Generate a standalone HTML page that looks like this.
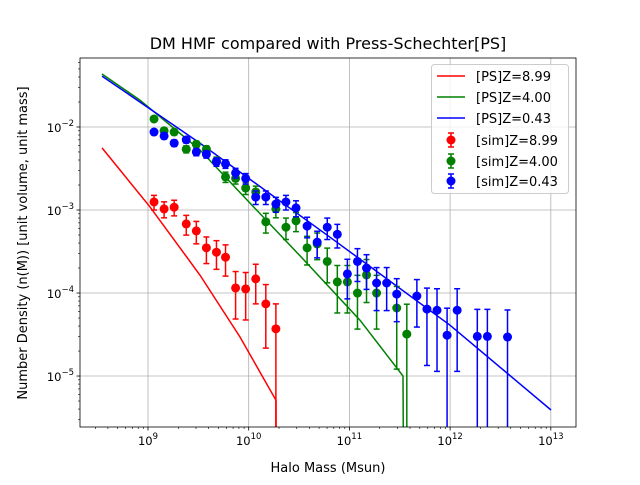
<!DOCTYPE html>
<html><head><meta charset="utf-8"><style>
body{margin:0;background:#fff;}
svg{font-family:"DejaVu Sans","Liberation Sans",sans-serif;}
</style></head><body>
<svg id="chart" width="640" height="480" viewBox="0 0 640 480"></svg>
<script>
// ---- data ----
const simLogM = [9.06,9.16,9.26,9.38,9.48,9.58,9.68,9.77,9.87,9.97,10.07,10.17,10.27,10.37,10.47,10.58,10.68,10.78,10.88,10.98,11.08,11.17,11.27,11.37,11.47,11.67,11.77,11.87,11.97,12.07,12.27,12.37,12.57];
const redSimVal = [1.25e-3,1.03e-3,1.08e-3,6.8e-4,5.6e-4,3.5e-4,3.1e-4,2.7e-4,1.15e-4,1.12e-4,1.48e-4,7.4e-5,3.7e-5];
const redSimN = [25,21,22,14,11,8,7,6,3,3,4,2,1];
const greenSimVal = [1.25e-2,9.0e-3,8.7e-3,5.4e-3,6.2e-3,5.4e-3,3.9e-3,2.5e-3,2.4e-3,1.84e-3,1.65e-3,7.2e-4,1.03e-3,6.2e-4,7.4e-4,3.5e-4,3.9e-4,2.4e-4,1.36e-4,1.36e-4,1.0e-4,1.65e-4,1.0e-4,null,6.6e-5,3.2e-5];
const greenSimLogM = [9.06,9.16,9.26,9.38,9.48,9.58,9.68,9.77,9.87,9.97,10.07,10.17,10.27,10.37,10.47,10.58,10.68,10.78,10.88,10.98,11.08,11.17,11.27,11.37,11.47,11.57];
const greenSimN = [250,180,174,108,124,108,78,50,48,37,33,14,21,12,15,7,8,5,3,3,2.5,3.5,2.5,1,1.5,0.6];
const blueSimVal = [8.7e-3,7.8e-3,6.4e-3,7.0e-3,5.0e-3,4.7e-3,3.8e-3,3.6e-3,2.8e-3,2.4e-3,1.43e-3,1.43e-3,1.18e-3,1.25e-3,1.06e-3,6.4e-4,4.1e-4,6.2e-4,5.1e-4,1.7e-4,2.4e-4,2.0e-4,1.32e-4,1.32e-4,9.7e-5,9.2e-5,6.4e-5,6.2e-5,3.1e-5,6.2e-5,3.0e-5,3.0e-5,2.95e-5];
const blueSimN = [174,156,128,140,100,94,76,72,56,48,29,29,24,25,21,13,8,12,10,4,5.5,5,3.5,3.5,3.5,3,1.6,1.5,0.8,1.5,0.8,0.8,0.8];
const redPSLogM = [8.543,9.02,9.516,9.914,10.271,10.272];
const redPSVal = [5.6e-3,1.09e-3,1.65e-4,2.95e-5,5.1e-6,0];
const greenPSLogM = [8.543,8.92,9.516,10.013,10.51,11.105,11.532,11.535];
const greenPSVal = [4.35e-2,2.11e-2,5.3e-3,1.21e-3,2.8e-4,4.7e-5,1.0e-5,0];
const bluePSLogM = [8.543,9.516,10.807,11.999,13.002];
const bluePSVal = [4.1e-2,6.4e-3,4.7e-4,4.1e-5,3.9e-6];
const xTickExp = [9,10,11,12,13];
const yTickExp = [-5,-4,-3,-2];

// ---- axes ----
const L=80,R=576,T=58,B=427;
const xMin=8.325,xMax=13.25,yMin=-5.614,yMax=-1.169;
const sx=v=>L+(v-xMin)/(xMax-xMin)*(R-L);
const sy=v=>{ if(!(v>0)) return B+5; return B-(Math.log10(v)-yMin)/(yMax-yMin)*(B-T); };
const syl=l=>B-(l-yMin)/(yMax-yMin)*(B-T);
const NS="http://www.w3.org/2000/svg";
const svg=document.getElementById('chart');
function mk(tag,attrs,parent){const e=document.createElementNS(NS,tag);for(const k in attrs)e.setAttribute(k,attrs[k]);(parent||svg).appendChild(e);return e;}

const defs=mk('defs',{});
const cp=mk('clipPath',{id:'plotclip'},defs);
mk('rect',{x:L,y:T,width:R-L,height:B-T},cp);

const grid=mk('g',{});


const axes=mk('g',{});


xTickExp.forEach(e=>{
  const x=sx(e);
  mk('line',{x1:x,x2:x,y1:T,y2:B,stroke:'#b0b0b0','stroke-width':0.8},grid);
  mk('line',{x1:x,x2:x,y1:B,y2:B+3.5,stroke:'#000','stroke-width':0.8},axes);
  const t=mk('text',{x:x,y:B+18,'text-anchor':'middle','font-size':11.5},axes);
  
  
  t.innerHTML='10<tspan dy="-6" font-size="8.5">'+e+'</tspan>';
});
for(let d=8;d<=13;d++)for(let m=2;m<=9;m++){const l=d+Math.log10(m);if(l<xMin||l>xMax)continue;const x=sx(l);mk('line',{x1:x,x2:x,y1:B,y2:B+2,stroke:'#000','stroke-width':0.6},axes);}
yTickExp.forEach(e=>{
  const y=syl(e);
  mk('line',{x1:L,x2:R,y1:y,y2:y,stroke:'#b0b0b0','stroke-width':0.8},grid);
  mk('line',{x1:L-3.5,x2:L,y1:y,y2:y,stroke:'#000','stroke-width':0.8},axes);
  const t=mk('text',{x:L-6,y:y+5,'text-anchor':'end','font-size':11.5},axes);
  
  
  t.innerHTML='10<tspan dy="-6" font-size="8.5">\u2212'+(-e)+'</tspan>';
});
for(let d=-6;d<=-1;d++)for(let m=2;m<=9;m++){const l=d+Math.log10(m);if(l<yMin||l>yMax)continue;const y=syl(l);mk('line',{x1:L-2,x2:L,y1:y,y2:y,stroke:'#000','stroke-width':0.6},axes);}

const plot=mk('g',{'clip-path':'url(#plotclip)'});
function psLine(lm,vals,color,name){
  let d='';lm.forEach((l,i)=>{d+=(i?'L':'M')+sx(l).toFixed(1)+','+sy(vals[i]).toFixed(1);});
  const p=mk('path',{d:d,fill:'none',stroke:color,'stroke-width':1.5},plot);
  
  
}
function sim(lm,vals,ns,color,name){
  const g=mk('g',{},plot);
  
  
  vals.forEach((v,i)=>{
    if(v==null)return;
    const x=sx(lm[i]);const err=v/Math.sqrt(ns[i]);
    const yt=sy(v+err),yb=sy(v-err);
    mk('line',{x1:x,x2:x,y1:yt,y2:yb,stroke:color,'stroke-width':1.5},g);
    mk('line',{x1:x-3,x2:x+3,y1:yt,y2:yt,stroke:color,'stroke-width':1.5},g);
    if(v-err>0)mk('line',{x1:x-3,x2:x+3,y1:yb,y2:yb,stroke:color,'stroke-width':1.5},g);
    const c=mk('circle',{cx:x,cy:sy(v),r:4.5,fill:color},g);
    
    
  });
}
psLine(redPSLogM,redPSVal,'#ff0000','ps-line-z8.99');
psLine(greenPSLogM,greenPSVal,'#008000','ps-line-z4.00');
psLine(bluePSLogM,bluePSVal,'#0000ff','ps-line-z0.43');
sim(simLogM,redSimVal,redSimN,'#ff0000','sim-series-z8.99');
sim(greenSimLogM,greenSimVal,greenSimN,'#008000','sim-series-z4.00');
sim(simLogM,blueSimVal,blueSimN,'#0000ff','sim-series-z0.43');

mk('rect',{x:L,y:T,width:R-L,height:B-T,fill:'none',stroke:'#000','stroke-width':0.8});
</script>
<svg width="640" height="480" style="position:absolute;left:0;top:0">
 <text x="328" y="49" text-anchor="middle" font-size="16" font-family="DejaVu Sans,Liberation Sans,sans-serif">DM HMF compared with Press-Schechter[PS]</text>
 <text x="328" y="472" text-anchor="middle" font-size="13" font-family="DejaVu Sans,Liberation Sans,sans-serif">Halo Mass (Msun)</text>
 <text transform="translate(27,243) rotate(-90)" text-anchor="middle" font-size="13" font-family="DejaVu Sans,Liberation Sans,sans-serif">Number Density (n(M)) [unit volume, unit mass]</text>
 <g font-size="13" font-family="DejaVu Sans,Liberation Sans,sans-serif">
  <rect x="431.5" y="64.5" width="137" height="129" rx="3" fill="#fff" fill-opacity="0.8" stroke="#ccc"/>
  <g><line x1="437" x2="465" y1="76" y2="76" stroke="#ff0000" stroke-width="1.5"/><text x="476" y="81">[PS]Z=8.99</text></g>
  <g><line x1="437" x2="465" y1="97" y2="97" stroke="#008000" stroke-width="1.5"/><text x="476" y="102">[PS]Z=4.00</text></g>
  <g><line x1="437" x2="465" y1="118" y2="118" stroke="#0000ff" stroke-width="1.5"/><text x="476" y="123">[PS]Z=0.43</text></g>
  <g><line x1="451" x2="451" y1="133" y2="147" stroke="#ff0000" stroke-width="1.5"/><line x1="448" x2="454" y1="133" y2="133" stroke="#ff0000" stroke-width="1.5"/><line x1="448" x2="454" y1="147" y2="147" stroke="#ff0000" stroke-width="1.5"/><circle cx="451" cy="140" r="4.5" fill="#ff0000"/><text x="476" y="145">[sim]Z=8.99</text></g>
  <g><line x1="451" x2="451" y1="154" y2="168" stroke="#008000" stroke-width="1.5"/><line x1="448" x2="454" y1="154" y2="154" stroke="#008000" stroke-width="1.5"/><line x1="448" x2="454" y1="168" y2="168" stroke="#008000" stroke-width="1.5"/><circle cx="451" cy="161" r="4.5" fill="#008000"/><text x="476" y="166">[sim]Z=4.00</text></g>
  <g><line x1="451" x2="451" y1="174" y2="188" stroke="#0000ff" stroke-width="1.5"/><line x1="448" x2="454" y1="174" y2="174" stroke="#0000ff" stroke-width="1.5"/><line x1="448" x2="454" y1="188" y2="188" stroke="#0000ff" stroke-width="1.5"/><circle cx="451" cy="181" r="4.5" fill="#0000ff"/><text x="476" y="186">[sim]Z=0.43</text></g>
 </g>
</svg>
</body></html>
